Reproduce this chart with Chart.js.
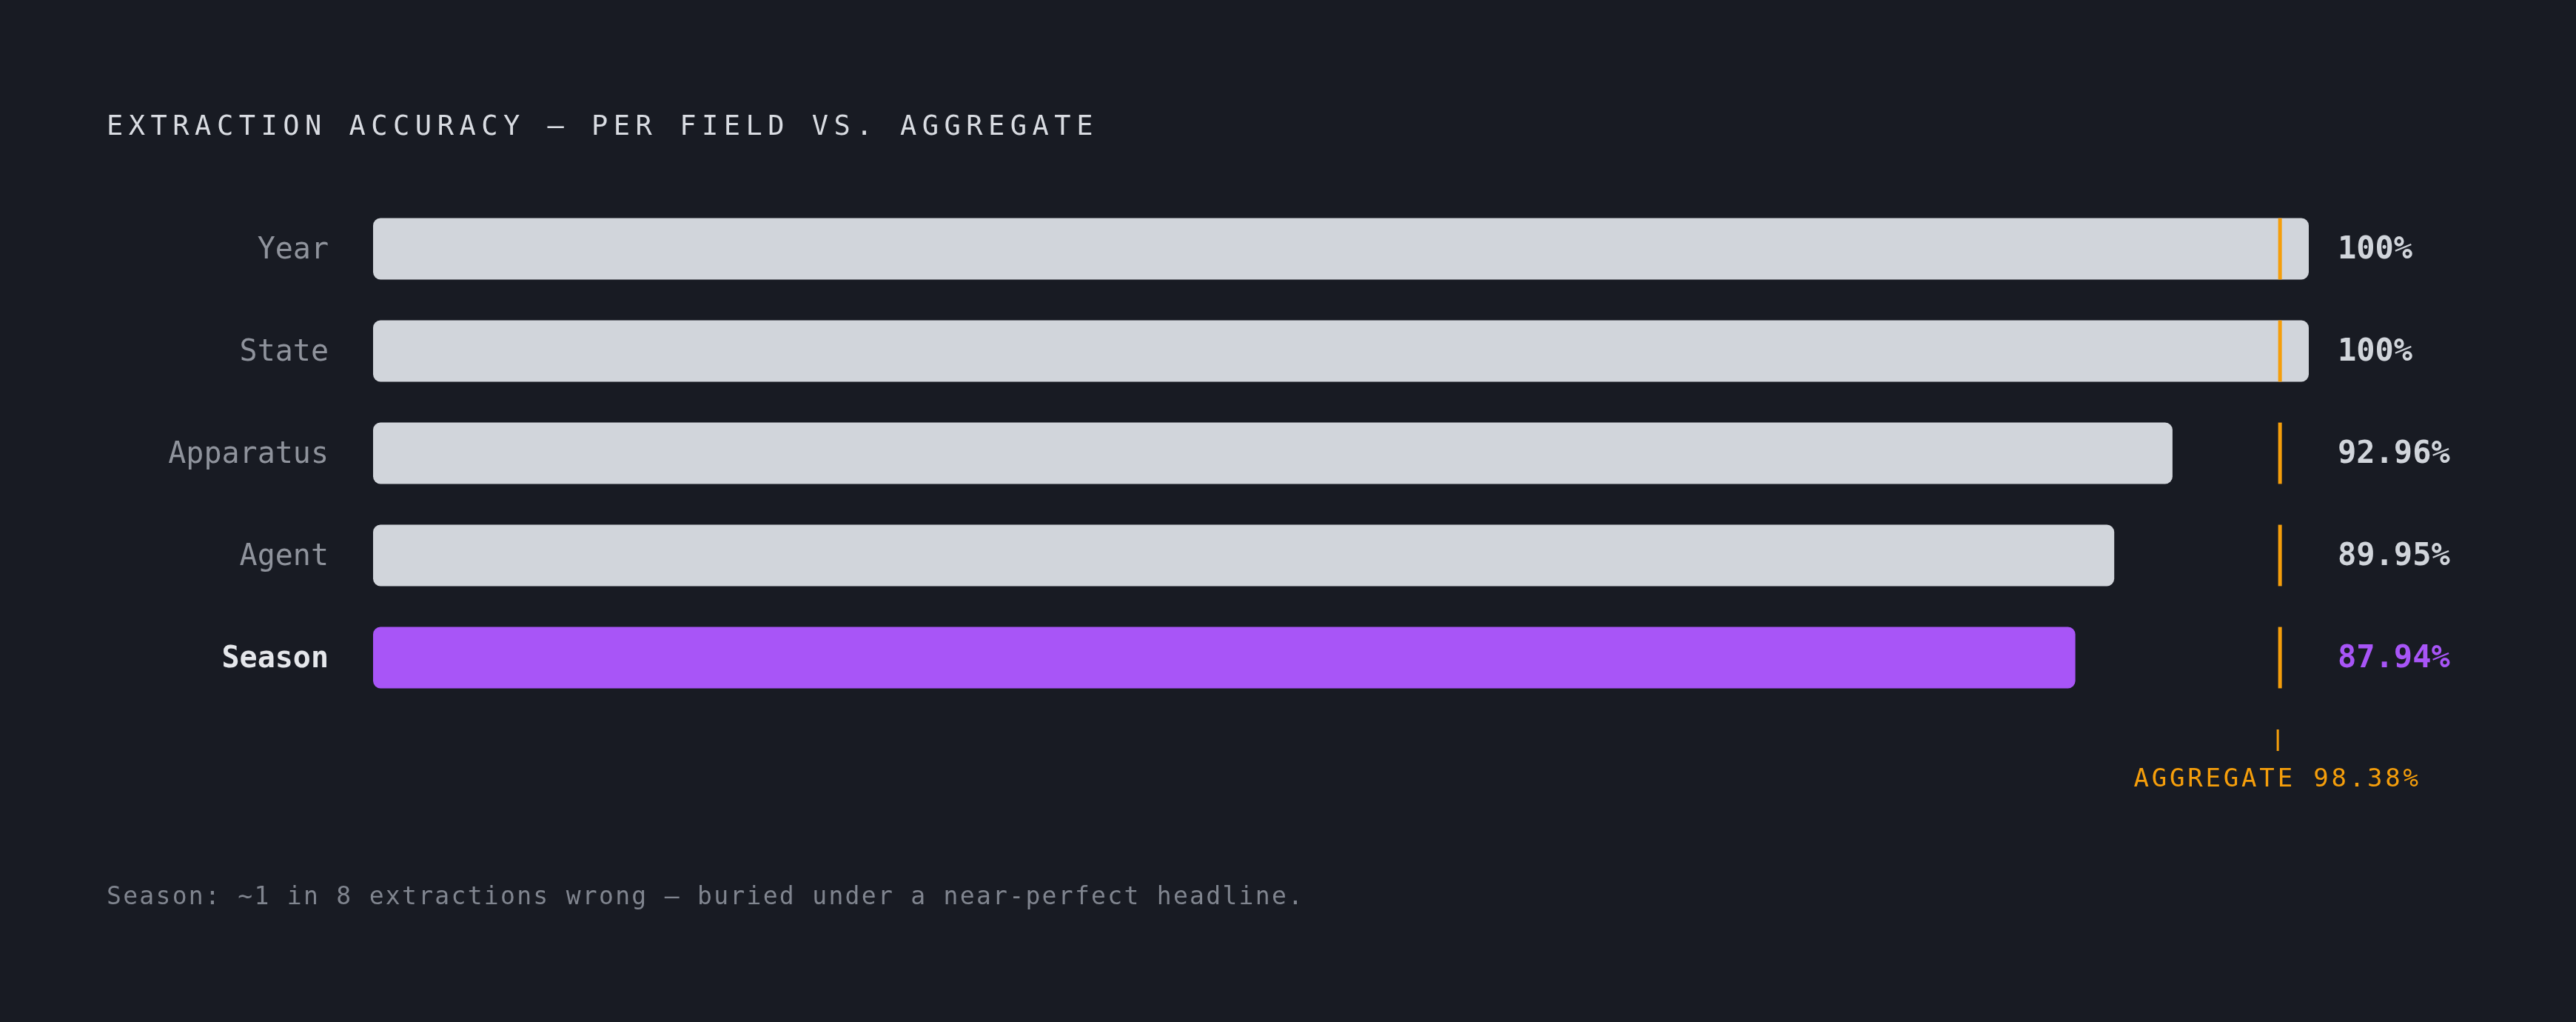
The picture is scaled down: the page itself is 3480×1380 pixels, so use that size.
<!DOCTYPE html>
<html>
<head>
<meta charset="utf-8">
<script src="https://cdn.jsdelivr.net/npm/chart.js@4.4.1/dist/chart.umd.min.js"></script>
<style>
  html, body { margin: 0; padding: 0; background: #181b23; }
  #wrap { width: 3480px; height: 1380px; }
</style>
</head>
<body>
<div id="wrap"><canvas id="accuracyChart" width="3480" height="1380"></canvas></div>
<script>
const fields = ['Year', 'State', 'Apparatus', 'Agent', 'Season'];
const accuracy = [100, 100, 92.96, 89.95, 87.94];
const aggregate = 98.38;
const highlightField = 'Season';

const MONO = '"DejaVu Sans Mono", "Liberation Mono", monospace';
const BAR = '#d1d5db';
const PURPLE = '#a855f7';
const ORANGE = '#f59e0b';

function fmt(v) {
    return (Number.isInteger(v) ? v : v.toFixed(2)) + '%';
}

/* texte + repere agrege */
const overlay = {
    id: 'overlay',
    afterDatasetsDraw(chart) {
        const ctx = chart.ctx;
        const x = chart.scales.x;
        const area = chart.chartArea;
        const meta = chart.getDatasetMeta(0);
        const ax = x.getPixelForValue(aggregate);

        ctx.save();
        // lignes oranges sur chaque barre
        ctx.fillStyle = ORANGE;
        meta.data.forEach(bar => {
            const h = bar.height;
            ctx.fillRect(ax + 1, bar.y - h / 2, 5, h);
        });
        // petit repere sous le graphe
        ctx.fillRect(ax - 1, area.bottom + 28, 3, 29);

        // valeurs a droite
        const valX = x.getPixelForValue(100) + 39;
        ctx.textBaseline = 'middle';
        ctx.textAlign = 'left';
        ctx.font = 'bold 42px ' + MONO;
        meta.data.forEach((bar, i) => {
            ctx.fillStyle = fields[i] === highlightField ? PURPLE : '#d1d5db';
            ctx.fillText(fmt(accuracy[i]), valX, bar.y + 2);
        });

        // libelle agrege
        ctx.fillStyle = ORANGE;
        ctx.font = '34px ' + MONO;
        ctx.letterSpacing = '3.8px';
        ctx.textAlign = 'center';
        ctx.textBaseline = 'alphabetic';
        ctx.fillText('AGGREGATE ' + aggregate.toFixed(2) + '%', ax, area.bottom + 105);

        // titre
        ctx.textAlign = 'left';
        ctx.fillStyle = '#d9dce2';
        ctx.font = '37px ' + MONO;
        ctx.letterSpacing = '7.5px';
        ctx.fillText('EXTRACTION ACCURACY \u2014 PER FIELD VS. AGGREGATE', 144, 182);

        // note
        ctx.fillStyle = '#80858f';
        ctx.font = '33px ' + MONO;
        ctx.letterSpacing = '2.3px';
        ctx.fillText('Season: ~1 in 8 extractions wrong \u2014 buried under a near-perfect headline.', 144, 1221);
        ctx.restore();
    }
};

const chart = new Chart(document.getElementById('accuracyChart').getContext('2d'), {
    type: 'bar',
    data: {
        labels: fields,
        datasets: [{
            data: accuracy,
            backgroundColor: fields.map(f => f === highlightField ? PURPLE : BAR),
            borderWidth: 0,
            borderRadius: 10,
            borderSkipped: false,
            categoryPercentage: 1,
            barPercentage: 0.6
        }]
    },
    options: {
        indexAxis: 'y',
        responsive: false,
        animation: false,
        devicePixelRatio: 1,
        layout: {
            padding: { left: 0, right: 361, top: 267, bottom: 423 }
        },
        scales: {
            x: {
                display: false,
                min: 0,
                max: 100
            },
            y: {
                grid: { display: false, drawTicks: false },
                border: { display: false },
                afterFit(scale) { scale.width = 504; },
                ticks: {
                    padding: 60,
                    labelOffset: 3,
                    color: ctx => fields[ctx.index] === highlightField ? '#e5e7eb' : '#8f939c',
                    font: ctx => ({
                        family: MONO,
                        size: 40,
                        weight: fields[ctx.index] === highlightField ? 'bold' : 'normal'
                    })
                }
            }
        },
        plugins: {
            legend: { display: false },
            tooltip: { enabled: false }
        }
    },
    plugins: [overlay]
});
</script>
</body>
</html>
